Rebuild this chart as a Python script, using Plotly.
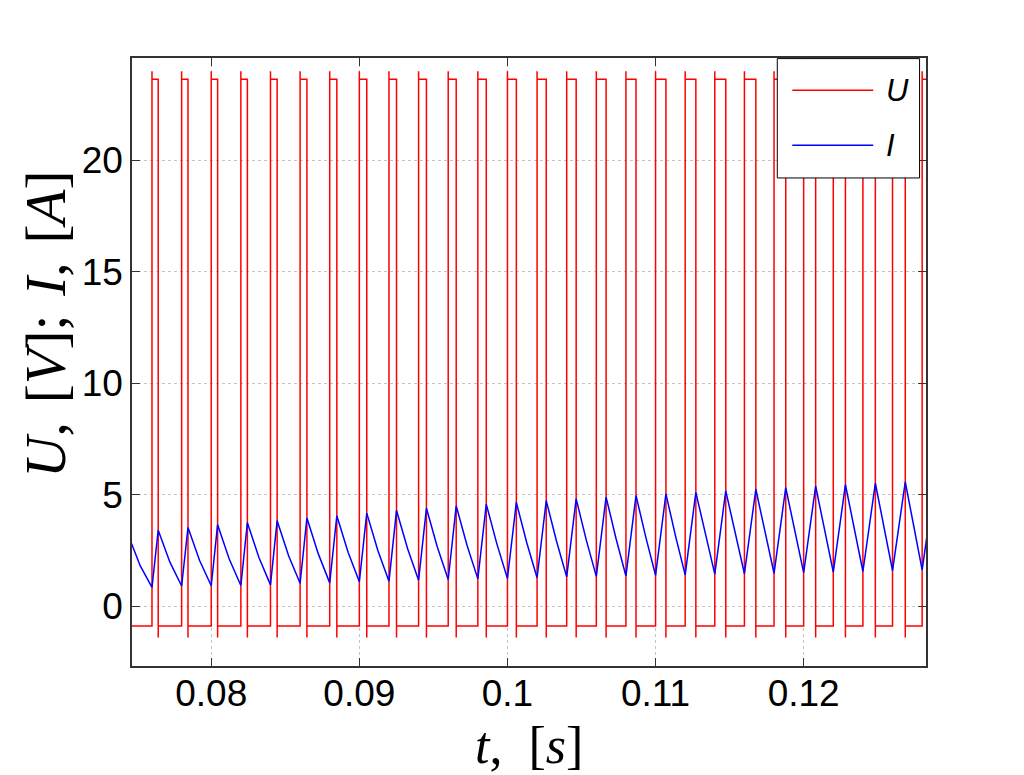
import plotly.graph_objects as go

# ---- data ----
# PWM pulse rising / falling edge times (s)
t_on = [0.074, 0.076, 0.078, 0.080, 0.082, 0.084, 0.086, 0.088, 0.090, 0.092,
        0.094, 0.096, 0.098, 0.100, 0.102, 0.104, 0.106, 0.108, 0.110, 0.112,
        0.114, 0.116, 0.118, 0.120, 0.122, 0.124, 0.126, 0.128]
t_off = [0.07442, 0.07642, 0.07843, 0.08043, 0.08244, 0.08445, 0.08646, 0.08848,
         0.09050, 0.09251, 0.09453, 0.09654, 0.09857, 0.10060, 0.10262, 0.10464,
         0.10666, 0.10868, 0.11070, 0.11272, 0.11474, 0.11677, 0.11879, 0.12081,
         0.12282, 0.12484, 0.12686, 0.12885]

# voltage levels (V)
U_high = 23.65
U_over = 24.0
U_low = -0.88
U_under = -1.40

# current at rising edge (minimum) and at falling edge (peak), A
I_min = [0.80, 0.85, 0.91, 0.92, 0.93, 0.96, 1.03, 1.05, 1.10, 1.12,
         1.17, 1.20, 1.23, 1.25, 1.28, 1.32, 1.34, 1.36, 1.39, 1.41,
         1.44, 1.46, 1.48, 1.51, 1.53, 1.56, 1.60, 1.63]
I_peak = [3.15, 3.41, 3.53, 3.66, 3.75, 3.84, 3.96, 4.06, 4.18, 4.30,
          4.40, 4.50, 4.58, 4.66, 4.74, 4.82, 4.90, 4.97, 5.04, 5.11,
          5.18, 5.25, 5.32, 5.39, 5.46, 5.52, 5.58, 5.65]
# current halfway through each decay (after pulse k, before pulse k+1), A
I_mid = [1.81, 1.98, 2.05, 2.12, 2.19, 2.27, 2.35, 2.42, 2.50, 2.59,
         2.66, 2.74, 2.80, 2.86, 2.93, 2.98, 3.04, 3.10, 3.15, 3.21,
         3.26, 3.31, 3.37, 3.42, 3.47, 3.53, 3.58]

x_ticks = [0.08, 0.09, 0.10, 0.11, 0.12]
x_ticklabels = ["0.08", "0.09", "0.1", "0.11", "0.12"]
y_ticks = [0, 5, 10, 15, 20]
y_ticklabels = ["0", "5", "10", "15", "20"]

series_names = ["U", "I"]
series_colors = ["#ff0000", "#0000ff"]

# ---- build traces ----
u_t, u_v = [], []
for k in range(len(t_on)):
    u_t += [t_on[k], t_on[k], t_on[k], t_off[k], t_off[k], t_off[k]]
    u_v += [U_low, U_over, U_high, U_high, U_under, U_low]

i_t, i_v = [], []
for k in range(len(t_on)):
    i_t += [t_on[k], t_off[k]]
    i_v += [I_min[k], I_peak[k]]
    if k < len(I_mid):
        i_t.append((t_off[k] + t_on[k + 1]) / 2)
        i_v.append(I_mid[k])

fig = go.Figure()
fig.add_trace(go.Scatter(x=u_t, y=u_v, mode="lines", name=series_names[0],
                         showlegend=False,
                         line=dict(color=series_colors[0], width=1.5)))
fig.add_trace(go.Scatter(x=i_t, y=i_v, mode="lines", name=series_names[1],
                         showlegend=False,
                         line=dict(color=series_colors[1], width=1.5)))

axis_common = dict(ticks="inside", ticklen=8, tickwidth=1, tickcolor="#333333",
                   showline=True, linecolor="#333333", linewidth=1.5,
                   mirror="ticks", showgrid=True, gridcolor="#c4c4c4",
                   griddash="dot", gridwidth=1, zeroline=False,
                   tickfont=dict(family="Liberation Sans, Arial, sans-serif",
                                 size=37, color="black"))

# ---- legend box (MATLAB style, long line samples) ----
leg_x0, leg_x1, leg_y0, leg_y1 = 0.8127, 0.9919, 0.8027, 0.999
leg_line_x0, leg_line_x1, leg_text_x = 0.8316, 0.9336, 0.9465
leg_rows = [0.9469, 0.8565]

shapes = [dict(type="rect", xref="paper", yref="paper",
               x0=leg_x0, x1=leg_x1, y0=leg_y0, y1=leg_y1,
               fillcolor="white", line=dict(color="black", width=1),
               layer="above")]
annotations = []
for name, color, yy in zip(series_names, series_colors, leg_rows):
    shapes.append(dict(type="line", xref="paper", yref="paper",
                       x0=leg_line_x0, x1=leg_line_x1, y0=yy, y1=yy,
                       line=dict(color=color, width=1.5), layer="above"))
    annotations.append(dict(text="<i>%s</i>" % name, xref="paper", yref="paper",
                            x=leg_text_x, y=yy, xanchor="left", yanchor="middle",
                            showarrow=False,
                            font=dict(family="Liberation Sans, Arial, sans-serif",
                                      size=31, color="black")))

annotations += [
    dict(text="<i>U</i>,\u2004[<i>V</i>];\u2004<i>I</i>,\u2004[<i>A</i>]",
         xref="paper", yref="paper", x=-0.109, y=0.562,
         xanchor="center", yanchor="middle", textangle=-90,
         showarrow=False,
         font=dict(family="Liberation Serif, Times New Roman, serif",
                   size=57, color="black")),
    dict(text="<i>t</i>,\u2002[<i>s</i>]",
         xref="paper", yref="paper", x=0.5, y=-0.1315,
         xanchor="center", yanchor="middle", showarrow=False,
         font=dict(family="Liberation Serif, Times New Roman, serif",
                   size=52, color="black")),
]

fig.update_layout(
    width=1024, height=775, autosize=False,
    margin=dict(l=132, r=98, t=58, b=109, pad=0),
    paper_bgcolor="white", plot_bgcolor="white",
    showlegend=False,
    xaxis=dict(range=[0.07465, 0.12826], tickvals=x_ticks,
               ticktext=x_ticklabels, ticklabelstandoff=-6, **axis_common),
    yaxis=dict(range=[-2.68, 24.6], tickvals=y_ticks,
               ticktext=y_ticklabels, **axis_common),
    shapes=shapes,
    annotations=annotations,
)

fig.write_html("out.html")
